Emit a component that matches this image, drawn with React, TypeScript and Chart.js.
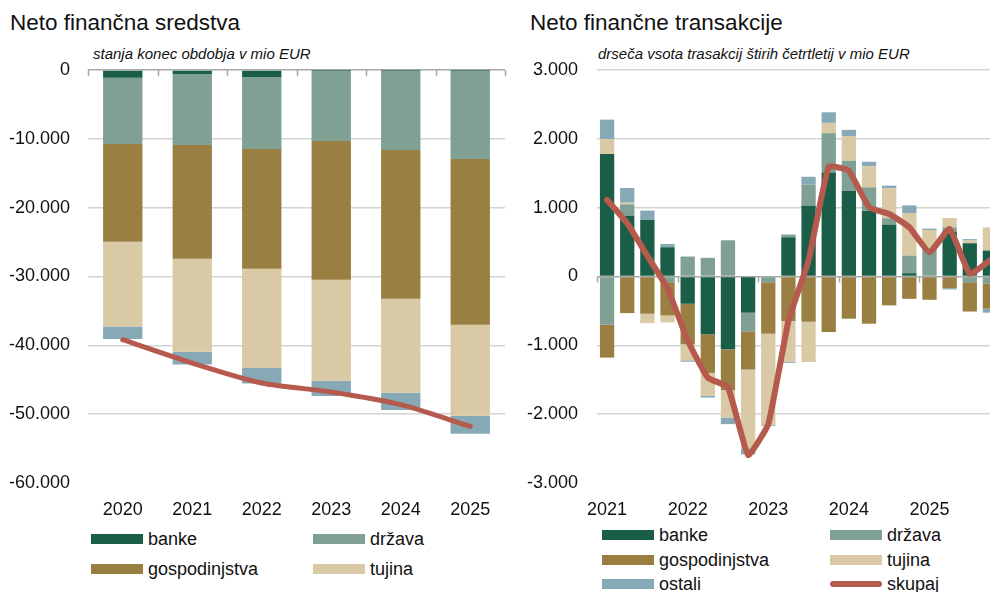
import React, { useEffect, useRef } from 'react';
import { Chart, registerables } from 'chart.js';

Chart.register(...registerables);

// ---------- data ----------
const stockYears = ['2020', '2021', '2022', '2023', '2024', '2025'];
const stockBanke = [-1117, -624, -1016, -50, -50, -30];
const stockDrzava = [-9623, -10261, -10450, -10261, -11570, -12888];
const stockGosp = [-14224, -16546, -17417, -20174, -21626, -24093];
const stockTujina = [-12293, -13498, -14412, -14659, -13643, -13208];
const stockOstali = [-1829, -1843, -2235, -2221, -2511, -2612];
const stockSkupaj = [-39187, -42569, -45472, -46778, -48621, -51771];
const stockTicks = [0, -10000, -20000, -30000, -40000, -50000, -60000];

const flowQuarters = [
  '2021 Q1', '2021 Q2', '2021 Q3', '2021 Q4',
  '2022 Q1', '2022 Q2', '2022 Q3', '2022 Q4',
  '2023 Q1', '2023 Q2', '2023 Q3', '2023 Q4',
  '2024 Q1', '2024 Q2', '2024 Q3', '2024 Q4',
  '2025 Q1', '2025 Q2', '2025 Q3', '2025 Q4',
];
const flowBanke = [1778, 884, 822, 425, -396, -841, -1058, -526, 0, 570, 1033, 1512, 1246, 957, 754, 48, 0, 652, 483, 377];
const flowDrzava = [-700, 164, 0, -83, 290, 271, 526, -271, -83, 39, 304, 570, 435, 338, 92, 256, 401, 62, -83, -106];
const flowGosp = [-478, -532, -541, -483, -590, -560, -594, -555, -748, -647, -657, -807, -613, -686, -420, -324, -338, -169, -426, -362];
const flowTujina = [217, 25, -136, -101, -232, -333, -396, -1145, -1329, -594, -585, 150, 358, 304, 435, 618, 275, 136, 40, 338];
const flowOstali = [284, 213, 135, 48, -20, -25, -97, -87, -14, -14, 112, 154, 91, 68, 39, 111, 19, -19, 20, -58];
const flowSkupaj = [1111, 773, 300, -174, -928, -1470, -1609, -2594, -2145, -646, 232, 1594, 1536, 1005, 908, 715, 352, 691, 39, 232];
const flowTicks = [3000, 2000, 1000, 0, -1000, -2000, -3000];

// ---------- style ----------
const C_BANKE = '#1b5e47';
const C_DRZAVA = '#7fa092';
const C_GOSP = '#9a7f43';
const C_TUJINA = '#d9c9a5';
const C_OSTALI = '#87a9b6';
const C_SKUPAJ = '#b65a4d';
const SANS = '"Liberation Sans", Arial, Helvetica, sans-serif';
const TICK_SIZE = 18;

const fmt = (v: number) => {
  const s = Math.abs(Math.round(v)).toString().replace(/\B(?=(\d{3})+(?!\d))/g, '.');
  return (v < 0 ? '-' : '') + s;
};

const zeroTicks = {
  id: 'zeroTicks',
  afterDatasetsDraw(chart: any, _args: any, opts: any) {
    const x = chart.scales.x;
    const y = chart.scales.y;
    const n = chart.data.labels.length;
    const every = opts.every || 1;
    const half = (x.getPixelForValue(1) - x.getPixelForValue(0)) / 2;
    const y0 = y.getPixelForValue(0);
    const ctx = chart.ctx;
    ctx.save();
    ctx.strokeStyle = '#a8a8a8';
    ctx.lineWidth = 1.5;
    for (let i = 0; i <= n; i += every) {
      const px = Math.round(x.getPixelForValue(i) - half) + 0.5;
      ctx.beginPath();
      ctx.moveTo(px, y0);
      ctx.lineTo(px, y0 + 6);
      ctx.stroke();
    }
    ctx.restore();
  },
};

function bar(label: string, data: number[], color: string, pct: number) {
  return {
    type: 'bar' as const,
    label,
    data,
    backgroundColor: color,
    borderWidth: 0,
    barPercentage: pct,
    categoryPercentage: 1,
    stack: 's',
    order: 1,
  };
}

function line(data: number[], width: number, tension: number) {
  return {
    type: 'line' as const,
    label: 'skupaj',
    data,
    borderColor: C_SKUPAJ,
    backgroundColor: C_SKUPAJ,
    borderWidth: width,
    pointRadius: 0,
    tension,
    borderCapStyle: 'round' as const,
    borderJoinStyle: 'round' as const,
    stack: 'line',
    order: 0,
  };
}

function makeOptions(min: number, max: number, ticks: number[], yWidth: number, yPad: number, every: number, xcb: any) {
  return {
    animation: false as const,
    responsive: false,
    maintainAspectRatio: false,
    layout: { padding: { top: 30, right: 10, left: 0, bottom: 0 } },
    plugins: {
      legend: { display: false },
      tooltip: { enabled: false },
      zeroTicks: { every },
    },
    scales: {
      x: {
        stacked: true,
        grid: { display: false },
        border: { display: false },
        ticks: {
          autoSkip: false,
          maxRotation: 0,
          padding: 8,
          color: '#111',
          font: { family: SANS, size: TICK_SIZE },
          callback: xcb,
        },
        afterFit: (s: any) => { s.height = 40; },
      },
      y: {
        stacked: true,
        min,
        max,
        afterBuildTicks: (s: any) => { s.ticks = ticks.map((v) => ({ value: v })); },
        grid: {
          drawTicks: false,
          lineWidth: 1.5,
          color: (c: any) => (c.tick && c.tick.value === 0 ? '#a8a8a8' : c.tick && c.tick.value === min ? 'rgba(0,0,0,0)' : '#d3d3d3'),
        },
        border: { display: false },
        ticks: {
          padding: yPad,
          color: '#111',
          font: { family: SANS, size: TICK_SIZE },
          callback: (v: any) => fmt(Number(v)),
        },
        afterFit: (s: any) => { s.width = yWidth; },
      },
    },
  };
}

function StockChart() {
  const ref = useRef<HTMLCanvasElement>(null);
  useEffect(() => {
    if (!ref.current) return;
    const chart = new Chart(ref.current, {
      type: 'bar',
      data: {
        labels: stockYears,
        datasets: [
          bar('banke', stockBanke, C_BANKE, 0.566),
          bar('država', stockDrzava, C_DRZAVA, 0.566),
          bar('gospodinjstva', stockGosp, C_GOSP, 0.566),
          bar('tujina', stockTujina, C_TUJINA, 0.566),
          bar('ostali', stockOstali, C_OSTALI, 0.566),
          line(stockSkupaj, 5, 0.25),
        ] as any,
      },
      options: makeOptions(-60000, 0, stockTicks, 88, 18, 1, function (this: any, v: any) { return this.getLabelForValue(v); }) as any,
      plugins: [zeroTicks],
    });
    return () => chart.destroy();
  }, []);
  return <canvas ref={ref} width={515} height={483} style={{ position: 'absolute', left: 0, top: 40, width: 515, height: 483 }} />;
}

function FlowChart() {
  const ref = useRef<HTMLCanvasElement>(null);
  useEffect(() => {
    if (!ref.current) return;
    const chart = new Chart(ref.current, {
      type: 'bar',
      data: {
        labels: flowQuarters,
        datasets: [
          bar('banke', flowBanke, C_BANKE, 0.71),
          bar('država', flowDrzava, C_DRZAVA, 0.71),
          bar('gospodinjstva', flowGosp, C_GOSP, 0.71),
          bar('tujina', flowTujina, C_TUJINA, 0.71),
          bar('ostali', flowOstali, C_OSTALI, 0.71),
          line(flowSkupaj, 6, 0.12),
        ] as any,
      },
      options: makeOptions(-3000, 3000, flowTicks, 77, 19, 4, function (this: any, v: any, i: number) {
        const l = this.getLabelForValue(v) as string;
        return i % 4 === 0 ? l.slice(0, 4) : '';
      }) as any,
      plugins: [zeroTicks],
    });
    return () => chart.destroy();
  }, []);
  return <canvas ref={ref} width={490} height={483} style={{ position: 'absolute', left: 520, top: 40, width: 490, height: 483 }} />;
}

function LegendItem({ x, y, color, label, isLine }: { x: number; y: number; color: string; label: string; isLine?: boolean }) {
  return (
    <>
      <div
        style={{
          position: 'absolute',
          left: x,
          top: isLine ? y - 3 : y - 5,
          width: 52,
          height: isLine ? 6 : 10,
          borderRadius: isLine ? 3 : 0,
          background: color,
        }}
      />
      <div
        style={{
          position: 'absolute',
          left: x + 57,
          top: y - 12,
          height: 24,
          lineHeight: '24px',
          fontFamily: SANS,
          fontSize: TICK_SIZE,
          color: '#111',
          whiteSpace: 'nowrap',
        }}
      >
        {label}
      </div>
    </>
  );
}

export default function App() {
  return (
    <div style={{ position: 'absolute', left: 0, top: 0, width: 990, height: 592, overflow: 'hidden', background: '#fff' }}>
      <div style={{ position: 'absolute', left: 10, top: 8, fontFamily: SANS, fontSize: 22.5, lineHeight: '30px', color: '#111', whiteSpace: 'nowrap' }}>
        Neto finančna sredstva
      </div>
      <div style={{ position: 'absolute', left: 93, top: 44, fontFamily: SANS, fontStyle: 'italic', fontSize: 15, lineHeight: '20px', color: '#111', whiteSpace: 'nowrap' }}>
        stanja konec obdobja v mio EUR
      </div>
      <div style={{ position: 'absolute', left: 530, top: 8, fontFamily: SANS, fontSize: 22.5, lineHeight: '30px', color: '#111', whiteSpace: 'nowrap' }}>
        Neto finančne transakcije
      </div>
      <div style={{ position: 'absolute', left: 598, top: 44, fontFamily: SANS, fontStyle: 'italic', fontSize: 15, lineHeight: '20px', color: '#111', whiteSpace: 'nowrap' }}>
        drseča vsota trasakcij štirih četrtletij v mio EUR
      </div>
      <StockChart />
      <FlowChart />
      <LegendItem x={91} y={539} color={C_BANKE} label="banke" />
      <LegendItem x={313} y={539} color={C_DRZAVA} label="država" />
      <LegendItem x={91} y={569} color={C_GOSP} label="gospodinjstva" />
      <LegendItem x={313} y={569} color={C_TUJINA} label="tujina" />
      <LegendItem x={602} y={535} color={C_BANKE} label="banke" />
      <LegendItem x={830} y={535} color={C_DRZAVA} label="država" />
      <LegendItem x={602} y={560} color={C_GOSP} label="gospodinjstva" />
      <LegendItem x={830} y={560} color={C_TUJINA} label="tujina" />
      <LegendItem x={602} y={584} color={C_OSTALI} label="ostali" />
      <LegendItem x={830} y={584} color={C_SKUPAJ} label="skupaj" isLine />
    </div>
  );
}
